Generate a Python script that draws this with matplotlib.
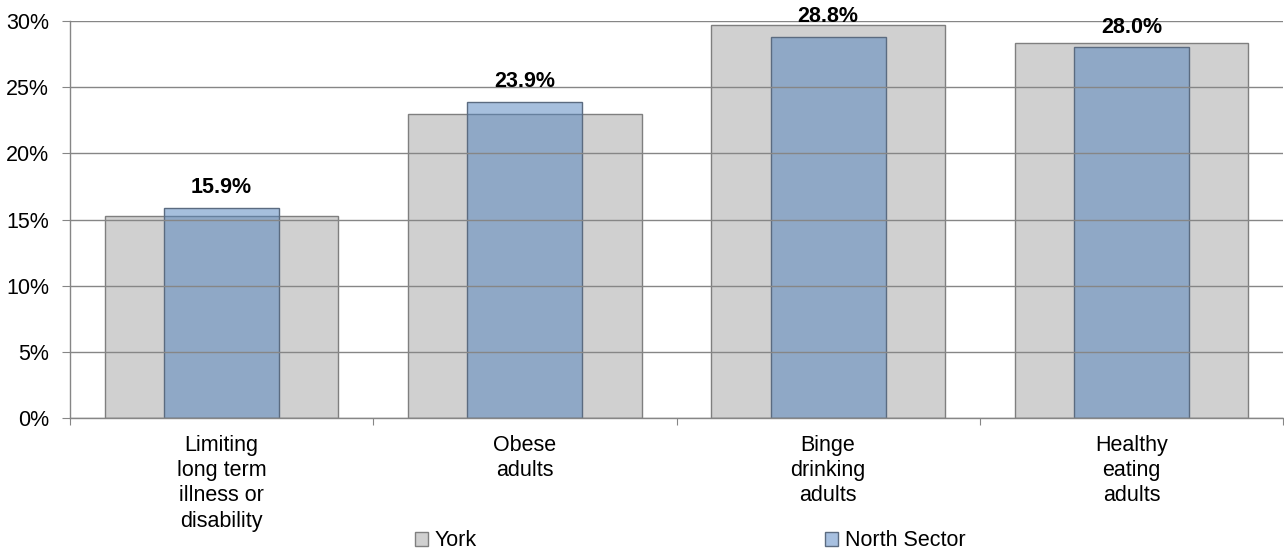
import numpy as np
import matplotlib
matplotlib.use('Agg')
import matplotlib.pyplot as plt
from matplotlib.patches import Patch
from matplotlib.ticker import FixedLocator, PercentFormatter

plt.rcParams['font.family'] = ['Liberation Sans', 'DejaVu Sans']

# 数据
categories = ['Limiting\nlong term\nillness or\ndisability', 'Obese\nadults',
              'Binge\ndrinking\nadults', 'Healthy\neating\nadults']
york = [15.3, 23.0, 29.7, 28.3]
north_sector = [15.9, 23.9, 28.8, 28.0]
series_names = ['York', 'North Sector']

grid_col = '#868686'
york_face = '#D0D0D0'
york_edge = '#7F7F7F'
north_face = (79 / 255, 129 / 255, 189 / 255, 0.5)
north_edge = '#5B6B80'

fig = plt.figure(figsize=(12.84, 5.53), dpi=100)
ax = fig.add_axes([70 / 1284, 135 / 553, 1213 / 1284, 397 / 553])

x = np.arange(len(categories))
ax.bar(x, york, width=0.77, color=york_face, edgecolor=york_edge, linewidth=1, zorder=1)
ax.bar(x, north_sector, width=0.38, color=north_face, edgecolor=north_edge, linewidth=1, zorder=2)

# 数据标签
for xi, v in zip(x, north_sector):
    ax.annotate(f'{v:.1f}%', xy=(xi, v), xytext=(0, 10.5), textcoords='offset points',
                ha='center', va='baseline', fontsize=15.5, fontweight='bold', zorder=5)

ax.set_xlim(-0.5, len(categories) - 0.5)
ax.set_ylim(0, 30)
ax.yaxis.set_major_locator(FixedLocator([0, 5, 10, 15, 20, 25, 30]))
ax.yaxis.set_major_formatter(PercentFormatter(decimals=0))
ax.grid(axis='y', color=grid_col, linewidth=1, zorder=3)
ax.set_axisbelow(False)

# x轴：主刻度在类别边界，次刻度放标签
ax.set_xticks(np.arange(-0.5, len(categories) + 0.5, 1))
ax.set_xticklabels([])
ax.set_xticks(x, minor=True)
ax.set_xticklabels(categories, minor=True, fontsize=15.5, linespacing=1.27)
ax.tick_params(axis='x', which='major', length=5, color=grid_col, direction='out')
ax.tick_params(axis='x', which='minor', length=0, pad=12)
ax.tick_params(axis='y', length=6, color=grid_col, labelsize=15.5, pad=9)

for s in ['top', 'right']:
    ax.spines[s].set_visible(False)
for s in ['left', 'bottom']:
    ax.spines[s].set_color(grid_col)
    ax.spines[s].set_linewidth(1)
    ax.spines[s].set_zorder(4)

handles = [Patch(facecolor=york_face, edgecolor=york_edge),
           Patch(facecolor=(167 / 255, 192 / 255, 224 / 255), edgecolor=north_edge)]
fig.legend(handles, series_names, loc='lower left', bbox_to_anchor=(415 / 1284, 0.003),
           ncol=2, frameon=False, fontsize=15.5, handlelength=0.6, handleheight=0.6,
           handletextpad=0.3, columnspacing=16.2, borderpad=0, borderaxespad=0)

fig.savefig('out.png', dpi=100)
